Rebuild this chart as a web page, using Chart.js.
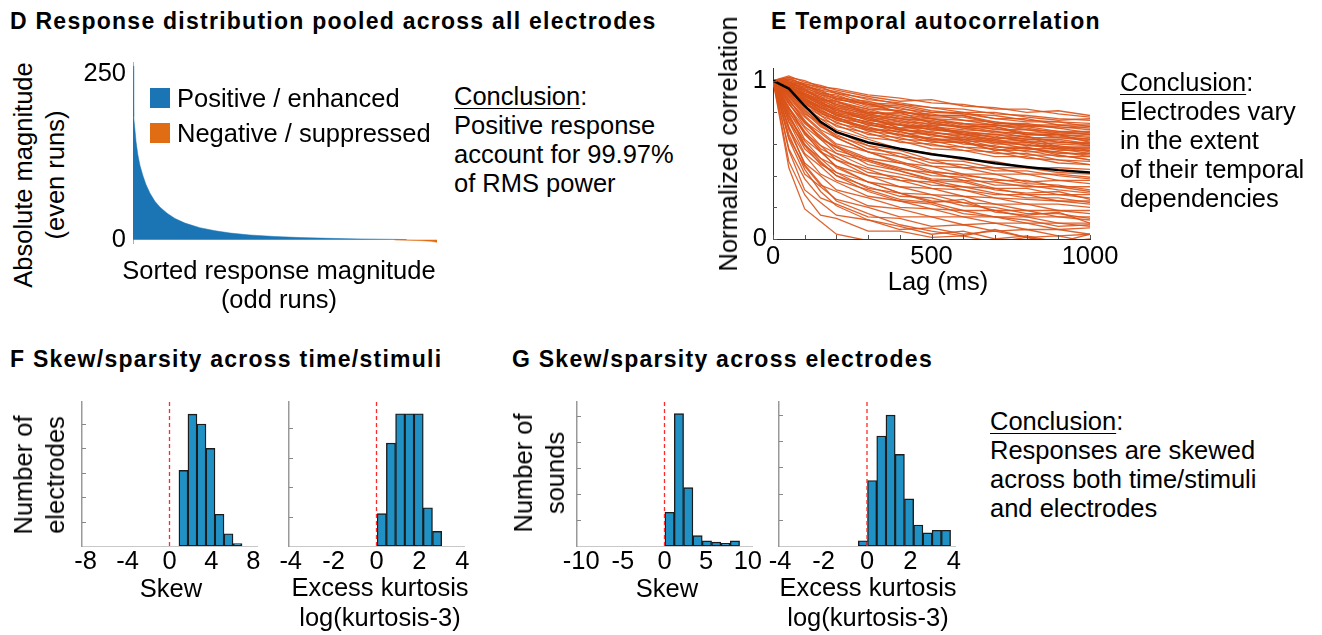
<!DOCTYPE html>
<html>
<head>
<meta charset="utf-8">
<script src="https://cdn.jsdelivr.net/npm/chart.js@4.4.1/dist/chart.umd.min.js"></script>
<style>
  body { margin: 0; background: #fff; }
  #fig { position: relative; width: 1322px; height: 635px; overflow: hidden;
         font-family: "Liberation Sans", Arial, sans-serif; color: #000; }
  canvas { position: absolute; }
  .txt { position: absolute; font-size: 25.5px; line-height: 29px; white-space: nowrap; }
  .ctr { transform: translate(-50%, -50%); text-align: center; }
  .rot { transform: translate(-50%, -50%) rotate(-90deg); text-align: center; line-height: 32px; }
  .head { position: absolute; font-size: 23px; line-height: 22px; font-weight: bold;
          letter-spacing: 1.25px; white-space: nowrap; }
  .swatch { position: absolute; width: 20px; height: 20px; }
  u { text-decoration-thickness: 1px; text-underline-offset: 3px; }
</style>
</head>
<body>
<div id="fig">
  <div class="head" style="left:10px; top:10px;">D Response distribution pooled across all electrodes</div>
  <div class="head" style="left:771px; top:10px;">E Temporal autocorrelation</div>
  <div class="head" style="left:10px; top:348px;">F Skew/sparsity across time/stimuli</div>
  <div class="head" style="left:512px; top:348px;">G Skew/sparsity across electrodes</div>

  <canvas id="chartD"></canvas>
  <canvas id="chartE"></canvas>
  <canvas id="chartF1"></canvas>
  <canvas id="chartF2"></canvas>
  <canvas id="chartG1"></canvas>
  <canvas id="chartG2"></canvas>

  <!-- Legende D -->
  <div id="legendD"></div>

  <!-- Achsentitel -->
  <div class="txt rot" style="left:39px; top:175px;">Absolute magnitude<br>(even runs)</div>
  <div class="txt ctr" style="left:279px; top:285px;">Sorted response magnitude<br>(odd runs)</div>
  <div class="txt rot" style="left:728px; top:144px;">Normalized correlation</div>
  <div class="txt ctr" style="left:938px; top:281px;">Lag (ms)</div>
  <div class="txt rot" style="left:39px; top:475px;">Number of<br>electrodes</div>
  <div class="txt ctr" style="left:171px; top:588px;">Skew</div>
  <div class="txt ctr" style="left:380px; top:602px; line-height:30px;">Excess kurtosis<br>log(kurtosis-3)</div>
  <div class="txt rot" style="left:539px; top:473px;">Number of<br>sounds</div>
  <div class="txt ctr" style="left:667px; top:588px;">Skew</div>
  <div class="txt ctr" style="left:868px; top:602px; line-height:30px;">Excess kurtosis<br>log(kurtosis-3)</div>

  <!-- Fazit-Texte -->
  <div class="txt" style="left:454px; top:82px;"><u>Conclusion</u>:<br>Positive response<br>account for 99.97%<br>of RMS power</div>
  <div class="txt" style="left:1120px; top:68px;"><u>Conclusion</u>:<br>Electrodes vary<br>in the extent<br>of their temporal<br>dependencies</div>
  <div class="txt" style="left:990px; top:407px;"><u>Conclusion</u>:<br>Responses are skewed<br>across both time/stimuli<br>and electrodes</div>
</div>

<script>
// ---------- Daten ----------

// D: sortierte Antwortstärken, x = Rang (Anteil 0..1)
const rankPos = [0, 0.0016, 0.003, 0.0066, 0.01, 0.016, 0.023, 0.033, 0.043, 0.056, 0.072, 0.089,
  0.112, 0.138, 0.171, 0.22, 0.27, 0.32, 0.385, 0.467, 0.55, 0.648, 0.747, 0.845, 0.9];
const magPos = [262, 205, 185, 165, 148, 128, 112, 96, 83, 70, 58, 49,
  40, 32, 25, 18, 13.5, 10, 7, 4.8, 3.2, 2, 1.2, 0.6, 0.2];
const rankNeg = [0.86, 0.9, 0.95, 0.98, 1.0];
const magNeg = [-0.4, -0.8, -1.5, -2.5, -4];
const dYTicks = [0, 250];

// E: Autokorrelation pro Elektrode
const lags = [0, 50, 100, 150, 200, 300, 400, 500, 600, 700, 800, 900, 1000];
const meanCorr = [1, 0.95, 0.84, 0.74, 0.675, 0.61, 0.57, 0.535, 0.51, 0.478, 0.455, 0.435, 0.42];
const electrodeCorr = [
  [1, 1.03, 0.99, 0.97, 0.94, 0.90, 0.87, 0.88, 0.84, 0.83, 0.80, 0.81, 0.78],
  [1, 1.01, 0.98, 0.96, 0.92, 0.89, 0.85, 0.83, 0.82, 0.79, 0.78, 0.76, 0.75],
  [1, 1.00, 0.97, 0.94, 0.92, 0.86, 0.85, 0.81, 0.79, 0.78, 0.75, 0.74, 0.73],
  [1, 0.99, 0.96, 0.94, 0.89, 0.87, 0.82, 0.80, 0.79, 0.76, 0.76, 0.72, 0.72],
  [1, 1.00, 0.97, 0.92, 0.91, 0.84, 0.83, 0.78, 0.78, 0.74, 0.72, 0.72, 0.70],
  [1, 0.98, 0.95, 0.92, 0.88, 0.85, 0.80, 0.79, 0.75, 0.74, 0.71, 0.71, 0.69],
  [1, 0.99, 0.94, 0.91, 0.87, 0.82, 0.81, 0.76, 0.75, 0.72, 0.71, 0.68, 0.68],
  [1, 0.97, 0.94, 0.89, 0.86, 0.82, 0.77, 0.76, 0.72, 0.72, 0.69, 0.68, 0.66],
  [1, 0.98, 0.93, 0.90, 0.84, 0.80, 0.78, 0.74, 0.73, 0.69, 0.69, 0.66, 0.65],
  [1, 0.96, 0.92, 0.88, 0.85, 0.79, 0.76, 0.74, 0.70, 0.70, 0.66, 0.66, 0.64],
  [1, 0.98, 0.92, 0.88, 0.83, 0.79, 0.74, 0.73, 0.70, 0.67, 0.67, 0.64, 0.63],
  [1, 0.96, 0.91, 0.86, 0.83, 0.77, 0.75, 0.71, 0.69, 0.68, 0.64, 0.64, 0.62],
  [1, 0.97, 0.91, 0.87, 0.81, 0.78, 0.72, 0.71, 0.67, 0.66, 0.65, 0.61, 0.61],
  [1, 0.95, 0.90, 0.85, 0.82, 0.75, 0.73, 0.69, 0.68, 0.64, 0.63, 0.62, 0.59],
  [1, 0.97, 0.90, 0.85, 0.79, 0.76, 0.70, 0.70, 0.66, 0.65, 0.61, 0.60, 0.59],
  [1, 0.95, 0.89, 0.84, 0.80, 0.73, 0.72, 0.67, 0.66, 0.62, 0.62, 0.58, 0.58],
  [1, 0.96, 0.89, 0.83, 0.78, 0.74, 0.69, 0.68, 0.64, 0.63, 0.59, 0.59, 0.56],
  [1, 0.94, 0.88, 0.83, 0.79, 0.72, 0.70, 0.65, 0.64, 0.60, 0.60, 0.56, 0.56],
  [1, 0.95, 0.87, 0.82, 0.76, 0.73, 0.67, 0.66, 0.62, 0.61, 0.57, 0.57, 0.54],
  [1, 0.94, 0.88, 0.81, 0.77, 0.70, 0.68, 0.63, 0.63, 0.58, 0.58, 0.54, 0.54],
  [1, 0.95, 0.86, 0.81, 0.75, 0.71, 0.65, 0.64, 0.60, 0.59, 0.55, 0.55, 0.52],
  [1, 0.93, 0.87, 0.79, 0.76, 0.68, 0.66, 0.61, 0.61, 0.56, 0.56, 0.52, 0.52],
  [1, 0.94, 0.85, 0.80, 0.73, 0.69, 0.63, 0.62, 0.58, 0.57, 0.53, 0.53, 0.50],
  [1, 0.92, 0.86, 0.78, 0.74, 0.66, 0.64, 0.59, 0.58, 0.54, 0.54, 0.50, 0.49],
  [1, 0.93, 0.84, 0.78, 0.71, 0.67, 0.61, 0.60, 0.56, 0.55, 0.51, 0.50, 0.47],
  [1, 0.91, 0.84, 0.76, 0.72, 0.64, 0.62, 0.57, 0.56, 0.52, 0.52, 0.48, 0.47],
  [1, 1.02, 0.97, 0.93, 0.88, 0.86, 0.80, 0.78, 0.78, 0.73, 0.72, 0.70, 0.67],
  [1, 0.99, 0.95, 0.88, 0.87, 0.79, 0.80, 0.73, 0.71, 0.71, 0.66, 0.66, 0.61],
  [1, 0.96, 0.90, 0.87, 0.80, 0.77, 0.70, 0.72, 0.66, 0.63, 0.65, 0.58, 0.58],
  [1, 0.93, 0.88, 0.81, 0.77, 0.69, 0.68, 0.62, 0.62, 0.56, 0.58, 0.53, 0.50],
  [1, 1.01, 0.98, 0.95, 0.93, 0.88, 0.86, 0.83, 0.80, 0.80, 0.77, 0.75, 0.76],
  [1, 0.98, 0.96, 0.91, 0.89, 0.83, 0.81, 0.77, 0.77, 0.73, 0.73, 0.70, 0.71],
  [1, 0.97, 0.93, 0.89, 0.85, 0.81, 0.76, 0.75, 0.71, 0.71, 0.67, 0.67, 0.66],
  [1, 0.96, 0.91, 0.86, 0.82, 0.76, 0.74, 0.70, 0.68, 0.66, 0.63, 0.63, 0.60],
  [1, 0.94, 0.88, 0.84, 0.78, 0.74, 0.69, 0.67, 0.65, 0.61, 0.61, 0.57, 0.57],
  [1, 0.93, 0.86, 0.80, 0.75, 0.70, 0.66, 0.63, 0.61, 0.58, 0.57, 0.55, 0.53],
  [1, 1.02, 1.00, 0.96, 0.95, 0.91, 0.89, 0.86, 0.85, 0.82, 0.82, 0.79, 0.77],
  [1, 0.99, 0.97, 0.93, 0.90, 0.85, 0.84, 0.80, 0.80, 0.76, 0.74, 0.74, 0.71],
  [1, 0.97, 0.94, 0.90, 0.87, 0.80, 0.79, 0.76, 0.73, 0.72, 0.70, 0.67, 0.67],
  [1, 0.96, 0.92, 0.87, 0.84, 0.78, 0.76, 0.72, 0.71, 0.68, 0.66, 0.65, 0.63],
  [1, 0.95, 0.90, 0.85, 0.81, 0.75, 0.72, 0.69, 0.67, 0.64, 0.62, 0.61, 0.60],
  [1, 0.94, 0.87, 0.83, 0.78, 0.72, 0.69, 0.66, 0.63, 0.62, 0.59, 0.58, 0.55],
  [1, 0.92, 0.83, 0.76, 0.69, 0.63, 0.57, 0.54, 0.50, 0.49, 0.45, 0.45, 0.44],
  [1, 0.91, 0.81, 0.73, 0.68, 0.59, 0.56, 0.50, 0.49, 0.45, 0.45, 0.42, 0.41],
  [1, 0.90, 0.79, 0.73, 0.65, 0.59, 0.52, 0.50, 0.45, 0.45, 0.41, 0.41, 0.39],
  [1, 0.89, 0.78, 0.69, 0.64, 0.55, 0.52, 0.46, 0.45, 0.41, 0.41, 0.37, 0.37],
  [1, 0.87, 0.77, 0.68, 0.60, 0.55, 0.48, 0.46, 0.41, 0.41, 0.36, 0.37, 0.35],
  [1, 0.88, 0.74, 0.67, 0.59, 0.51, 0.48, 0.42, 0.41, 0.37, 0.37, 0.33, 0.33],
  [1, 0.85, 0.74, 0.63, 0.58, 0.50, 0.44, 0.42, 0.37, 0.36, 0.33, 0.33, 0.30],
  [1, 0.86, 0.71, 0.63, 0.54, 0.49, 0.43, 0.38, 0.37, 0.32, 0.32, 0.28, 0.28],
  [1, 0.83, 0.70, 0.59, 0.54, 0.45, 0.41, 0.37, 0.33, 0.32, 0.28, 0.28, 0.26],
  [1, 0.83, 0.67, 0.59, 0.50, 0.44, 0.37, 0.36, 0.31, 0.28, 0.28, 0.24, 0.24],
  [1, 0.80, 0.67, 0.55, 0.50, 0.40, 0.37, 0.32, 0.31, 0.26, 0.25, 0.24, 0.22],
  [1, 0.81, 0.63, 0.55, 0.46, 0.40, 0.33, 0.32, 0.27, 0.26, 0.22, 0.22, 0.20],
  [1, 0.77, 0.62, 0.51, 0.46, 0.36, 0.33, 0.28, 0.27, 0.22, 0.22, 0.18, 0.18],
  [1, 0.78, 0.59, 0.51, 0.42, 0.36, 0.29, 0.28, 0.23, 0.22, 0.18, 0.18, 0.16],
  [1, 0.74, 0.59, 0.47, 0.42, 0.32, 0.29, 0.24, 0.23, 0.18, 0.18, 0.14, 0.14],
  [1, 0.74, 0.54, 0.46, 0.37, 0.31, 0.25, 0.23, 0.18, 0.18, 0.14, 0.14, 0.12],
  [1, 0.70, 0.53, 0.41, 0.36, 0.27, 0.24, 0.19, 0.18, 0.14, 0.14, 0.10, 0.10],
  [1, 0.69, 0.48, 0.40, 0.31, 0.26, 0.20, 0.19, 0.14, 0.14, 0.10, 0.10, 0.08],
  [1, 0.64, 0.46, 0.34, 0.30, 0.21, 0.19, 0.14, 0.14, 0.10, 0.10, 0.06, 0.07],
  [1, 0.63, 0.41, 0.33, 0.25, 0.20, 0.14, 0.14, 0.09, 0.10, 0.06, 0.06, 0.03],
  [1, 0.57, 0.38, 0.26, 0.22, 0.14, 0.13, 0.08, 0.09, 0.05, 0.06, 0.02, 0.03],
  [1, 0.56, 0.31, 0.23, 0.15, 0.12, 0.06, 0.07, 0.03, 0.05, 0.01, 0.02, -0.02],
  [1, 0.49, 0.28, 0.15, 0.13, 0.05, 0.05, 0.01, 0.02, -0.02, 0.01, -0.03, -0.02],
  [1, 0.45, 0.19, 0.11, 0.03, -0.01, -0.04, -0.02, -0.05, -0.03, -0.04, -0.05, -0.04],
  [1, 0.71, 0.47, 0.35, 0.24, 0.16, 0.09, 0.05, 0.02, 0.06, 0.01, -0.02, 0.03],
  [1, 0.83, 0.66, 0.56, 0.45, 0.36, 0.29, 0.23, 0.25, 0.17, 0.15, 0.17, 0.10],
  [1, 0.88, 0.75, 0.64, 0.58, 0.47, 0.43, 0.37, 0.36, 0.31, 0.29, 0.30, 0.25],
  [1, 0.79, 0.60, 0.49, 0.40, 0.30, 0.24, 0.22, 0.16, 0.14, 0.12, 0.08, 0.09],
  [1, 0.66, 0.44, 0.30, 0.21, 0.12, 0.08, 0.03, 0.05, 0.00, 0.02, -0.02, 0.00],
  [1, 0.92, 0.82, 0.72, 0.64, 0.55, 0.49, 0.43, 0.40, 0.38, 0.35, 0.34, 0.31],
  [1, 0.90, 0.80, 0.71, 0.66, 0.57, 0.54, 0.48, 0.47, 0.43, 0.43, 0.40, 0.38],
  [1, 0.86, 0.73, 0.65, 0.56, 0.50, 0.45, 0.40, 0.39, 0.34, 0.34, 0.31, 0.29],
  [1, 0.82, 0.68, 0.57, 0.52, 0.42, 0.39, 0.34, 0.33, 0.29, 0.26, 0.26, 0.23],
  [1, 0.76, 0.57, 0.48, 0.40, 0.33, 0.27, 0.26, 0.21, 0.20, 0.16, 0.16, 0.13]
];
const eXTicks = [0, 100, 200, 300, 400, 500, 600, 700, 800, 900, 1000];
const eXLabels = [0, 500, 1000];
const eYTicks = [0, 0.2, 0.4, 0.6, 0.8, 1];
const eYLabels = [0, 1];

// F: Schiefe / Kurtosis über Zeit und Stimuli (Anzahl Elektroden)
const skewTimeBins = [1.33, 2.19, 3.05, 3.91, 4.77, 5.63, 6.49];
const skewTimeCounts = [31, 54, 50, 40, 13, 5, 1];
const skewTimeTicks = [-8, -4, 0, 4, 8];
const kurtTimeBins = [0.245, 0.675, 1.105, 1.535, 1.965, 2.395, 2.825];
const kurtTimeCounts = [11, 35, 45, 45, 45, 13, 5];
const kurtTimeTicks = [-4, -2, 0, 2, 4];

// G: Schiefe / Kurtosis über Elektroden (Anzahl Klänge)
const skewElecBins = [0.61, 1.73, 2.85, 3.97, 5.09, 6.21, 7.33, 8.45];
const skewElecCounts = [26, 102, 45, 8, 4, 3, 2, 4];
const skewElecTicks = [-10, -5, 0, 5, 10];
const kurtElecBins = [-0.19, 0.235, 0.66, 1.085, 1.51, 1.935, 2.36, 2.785, 3.21, 3.635];
const kurtElecCounts = [2, 25, 42, 50, 35, 18, 8, 5, 6, 6];
const kurtElecTicks = [-4, -2, 0, 2, 4];

// ---------- Stil ----------
Chart.defaults.font.family = '"Liberation Sans", Arial, sans-serif';
Chart.defaults.font.size = 25.5;
Chart.defaults.color = '#000';

const blue = '#1b75b5';
const orange = '#e06c14';
const lineOrange = 'rgba(217, 83, 25, 0.9)';
const barBlue = '#1f91c4';

// kleine Striche nach innen (wie in Matlab)
const innenTicks = {
  id: 'innenTicks',
  afterDatasetsDraw(chart, args, opts) {
    const { ctx, chartArea } = chart;
    ctx.save();
    ctx.strokeStyle = opts.color || '#444';
    ctx.lineWidth = 1;
    ctx.beginPath();
    if (opts.x) {
      chart.scales.x.ticks.forEach(t => {
        const px = Math.round(chart.scales.x.getPixelForValue(t.value)) + 0.5;
        ctx.moveTo(px, chartArea.bottom);
        ctx.lineTo(px, chartArea.bottom - opts.x);
      });
    }
    if (opts.y) {
      chart.scales.y.ticks.forEach(t => {
        const py = Math.round(chart.scales.y.getPixelForValue(t.value)) + 0.5;
        ctx.moveTo(chartArea.left, py);
        ctx.lineTo(chartArea.left + opts.y, py);
      });
    }
    ctx.stroke();
    ctx.restore();
  }
};

const setTicks = values => scale => { scale.ticks = values.map(v => ({ value: v })); };

// Canvas so platzieren, dass die Plotfläche genau auf "area" liegt
function makeChart(id, area, m, config) {
  const c = document.getElementById(id);
  c.width = area.right - area.left + m.left + m.right;
  c.height = area.bottom - area.top + m.top + m.bottom;
  c.style.left = (area.left - m.left) + 'px';
  c.style.top = (area.top - m.top) + 'px';
  c.style.width = c.width + 'px';
  c.style.height = c.height + 'px';
  const o = config.options;
  o.responsive = false;
  o.animation = false;
  o.devicePixelRatio = 1;
  const xHidden = o.scales.x.display === false;
  o.layout = { padding: { left: 0, top: m.top, right: m.right, bottom: xHidden ? m.bottom : 0 } };
  o.scales.y.afterFit = s => { s.width = m.left; };
  if (!xHidden) o.scales.x.afterFit = s => { s.height = m.bottom; };
  o.plugins = Object.assign({ legend: { display: false }, tooltip: { enabled: false } }, o.plugins);
  config.plugins = [innenTicks];
  return new Chart(c, config);
}

const pts = (xs, ys) => xs.map((x, i) => ({ x, y: ys[i] }));

// ---------- D: Verteilung ----------
// Ränder oben/unten groß genug für die halbe Label-Höhe, sonst schrumpft die Plotfläche
const chartD = makeChart('chartD', { left: 133, right: 437, top: 62, bottom: 243 },
  { left: 60, right: 10, top: 30, bottom: 30 }, {
  type: 'line',
  data: {
    datasets: [
      { label: 'Positive / enhanced', data: pts(rankPos, magPos), fill: 'origin',
        backgroundColor: blue, borderColor: blue, borderWidth: 0.5, pointRadius: 0 },
      { label: 'Negative / suppressed', data: pts(rankNeg, magNeg), fill: 'origin',
        backgroundColor: orange, borderColor: orange, borderWidth: 0.5, pointRadius: 0 }
    ]
  },
  options: {
    scales: {
      x: { type: 'linear', min: 0, max: 1, display: false },
      y: {
        min: -5, max: 268,
        afterBuildTicks: setTicks(dYTicks),
        ticks: { padding: 7, callback: v => String(v) },
        grid: { display: false, drawTicks: false },
        border: { color: '#b0b0b0', width: 1 }
      }
    }
  }
});

// Legende aus den Datensätzen
const legendD = document.getElementById('legendD');
chartD.data.datasets.forEach((ds, i) => {
  const top = 88 + i * 35;
  legendD.insertAdjacentHTML('beforeend',
    `<div class="swatch" style="left:150px; top:${top}px; background:${ds.backgroundColor};"></div>` +
    `<div class="txt" style="left:177px; top:${top - 4}px;">${ds.label}</div>`);
});

// ---------- E: Autokorrelation ----------
const eSets = [{ data: pts(lags, meanCorr), borderColor: '#000', borderWidth: 2.5, pointRadius: 0 }];
electrodeCorr.forEach(row => {
  eSets.push({ data: pts(lags, row), borderColor: lineOrange, borderWidth: 1.3, pointRadius: 0 });
});

makeChart('chartE', { left: 773, right: 1090, top: 68, bottom: 239 },
  { left: 40, right: 40, top: 30, bottom: 40 }, {
  type: 'line',
  data: { datasets: eSets },
  options: {
    scales: {
      x: {
        type: 'linear', min: 0, max: 1000,
        afterBuildTicks: setTicks(eXTicks),
        ticks: { padding: 3, autoSkip: false, maxRotation: 0,
                 callback: v => eXLabels.includes(v) ? String(v) : '' },
        grid: { display: false, drawTicks: false },
        border: { color: '#333', width: 1 }
      },
      y: {
        min: 0, max: 1.08,
        afterBuildTicks: setTicks(eYTicks),
        ticks: { padding: 6, autoSkip: false, callback: v => eYLabels.includes(v) ? String(v) : '' },
        grid: { display: false, drawTicks: false },
        border: { color: '#333', width: 1 }
      }
    },
    plugins: { innenTicks: { x: 4, y: 4, color: '#555' } }
  }
});

// ---------- F / G: Histogramme ----------
function histogram(id, area, bins, counts, xTicks, xRange, yMax, yStep) {
  const yTicks = [];
  for (let v = yStep; v < yMax; v += yStep) yTicks.push(v);
  return makeChart(id, area, { left: 30, right: 25, top: 10, bottom: 40 }, {
    type: 'bar',
    data: {
      datasets: [
        { type: 'line', data: [{ x: 0, y: 0 }, { x: 0, y: yMax }], borderColor: '#ff2a2a',
          borderWidth: 1.3, borderDash: [4, 3], pointRadius: 0 },
        { type: 'bar', data: pts(bins, counts), backgroundColor: barBlue, borderColor: '#1c1c1c',
          borderWidth: 1.4, borderSkipped: false, barPercentage: 1, categoryPercentage: 1 }
      ]
    },
    options: {
      scales: {
        x: {
          type: 'linear', min: -xRange, max: xRange, offset: false,
          afterBuildTicks: setTicks(xTicks),
          ticks: { padding: 1, autoSkip: false, maxRotation: 0, callback: v => String(v) },
          grid: { display: false, drawTicks: false, offset: false },
          border: { color: '#c8c8c8', width: 1, dash: [7, 3] }
        },
        y: {
          min: 0, max: yMax,
          afterBuildTicks: setTicks(yTicks),
          ticks: { display: false },
          grid: { display: false, drawTicks: false },
          border: { color: '#999', width: 1.5 }
        }
      },
      plugins: { innenTicks: { y: 4, color: '#888' } }
    }
  });
}

histogram('chartF1', { left: 82, right: 257, top: 402, bottom: 546 },
  skewTimeBins, skewTimeCounts, skewTimeTicks, 8.35, 59, 10);
histogram('chartF2', { left: 289, right: 464, top: 402, bottom: 546 },
  kurtTimeBins, kurtTimeCounts, kurtTimeTicks, 4.08, 49, 10);
histogram('chartG1', { left: 577, right: 752, top: 402, bottom: 546 },
  skewElecBins, skewElecCounts, skewElecTicks, 10.5, 111, 20);
histogram('chartG2', { left: 779, right: 955, top: 402, bottom: 546 },
  kurtElecBins, kurtElecCounts, kurtElecTicks, 4.05, 55, 10);
</script>
</body>
</html>
